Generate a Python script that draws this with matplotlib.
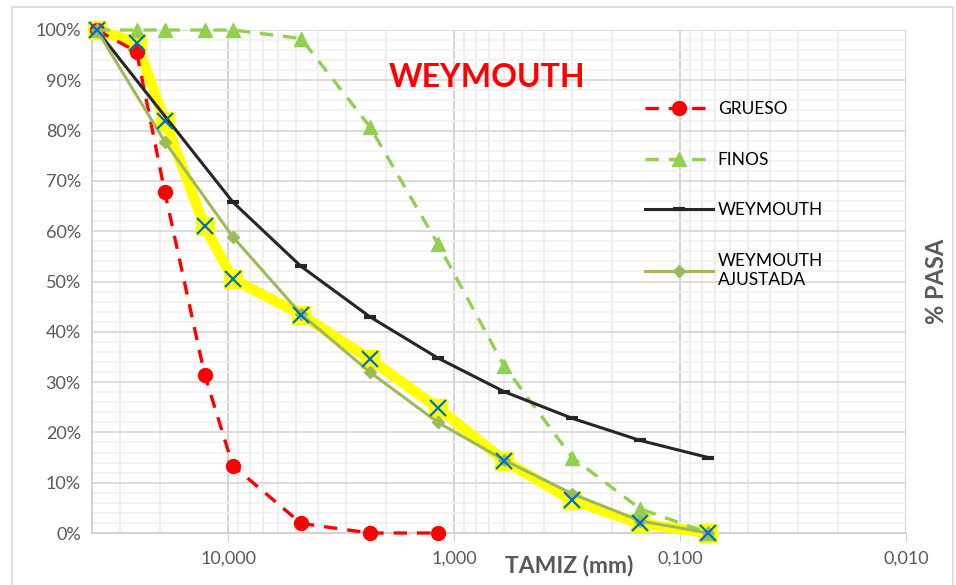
import matplotlib.pyplot as plt
from matplotlib.patches import Rectangle

plt.rcParams['font.family'] = ['Lato', 'DejaVu Sans']

# sieve openings (mm)
tamiz = [38.1, 25.4, 19.05, 12.7, 9.53, 4.75, 2.36, 1.18, 0.6, 0.3, 0.15, 0.075]

grueso_x = [38.1, 25.4, 19.05, 12.7, 9.53, 4.75, 2.36, 1.18]
grueso = [100, 95.7, 67.8, 31.5, 13.4, 1.9, 0, 0]

finos = [100, 100, 100, 100, 100, 98.3, 80.8, 57.5, 33.2, 15.0, 4.8, 0]

wey_x = [38.1, 9.53, 4.75, 2.36, 1.18, 0.6, 0.3, 0.15, 0.075]
weymouth = [100, 65.8, 53.0, 43.0, 34.8, 28.1, 22.8, 18.4, 15.0]

aju_x = [38.1, 19.05, 9.53, 4.75, 2.36, 1.18, 0.6, 0.3, 0.15, 0.075]
ajustada = [100, 77.8, 58.9, 43.5, 32.0, 22.0, 14.5, 7.8, 2.4, 0]

mezcla = [100, 97.5, 82.0, 61.0, 50.5, 43.4, 34.6, 24.9, 14.4, 6.5, 1.9, 0]

xticks = [10, 1, 0.1, 0.01]
xtick_labels = ["10,000", "1,000", "0,100", "0,010"]
yticks = list(range(0, 101, 10))

fig = plt.figure(figsize=(9.56, 5.85), dpi=100)
ax = fig.add_axes([92/956, 1-533/585, (906-92)/956, (533-30)/585])

fig.patches.append(Rectangle((12/956, -0.01), (953-12)/956, 1.01-7/585,
                             transform=fig.transFigure, fill=False,
                             edgecolor='#D9D9D9', lw=1.2))

ax.set_xscale('log')
ax.set_xlim(40, 0.01)
ax.set_ylim(0, 100)

# grid
ax.set_xticks(xticks)
ax.set_xticklabels(xtick_labels)
minor_x = [m * 10.0**e for e in range(-2, 2) for m in range(2, 10) if m * 10.0**e < 40]
ax.set_xticks(minor_x, minor=True)
ax.set_yticks(yticks)
ax.set_yticklabels([f"{v}%" for v in yticks])
ax.set_yticks(list(range(0, 101, 2)), minor=True)
ax.grid(which='major', axis='x', color='#D0D0D0', lw=1.3)
ax.grid(which='minor', axis='x', color='#EDEDED', lw=1.3)
ax.grid(which='major', axis='y', color='#D9D9D9', lw=1.3)
ax.grid(which='minor', axis='y', color='#F0F0F0', lw=1.1)
ax.set_axisbelow(True)

for s in ['top', 'right']:
    ax.spines[s].set_visible(False)
ax.spines['left'].set_color('#D0D0D0')
ax.spines['bottom'].set_color('#D0D0D0')
ax.spines['left'].set_linewidth(1.3)
ax.spines['bottom'].set_linewidth(1.3)
ax.tick_params(axis='y', which='both', length=0, labelsize=13, labelcolor='#595959', pad=8)
ax.tick_params(axis='x', which='major', length=6, color='#D0D0D0', labelsize=13,
               labelcolor='#595959', pad=7)
ax.tick_params(axis='x', which='minor', length=0)

# series
ax.plot(tamiz, mezcla, color='#FFFF00', lw=7.5, zorder=3, clip_on=False,
        marker='s', ms=13, mfc='#FFFF00', mec='#FFFF00')
ax.plot(tamiz, mezcla, ls='none', marker='x', ms=12, mec='#0070C0', mew=1.6,
        zorder=6, clip_on=False)
ax.plot(grueso_x, grueso, color='#FF0000', ls=(0, (4, 3)), lw=2.4, marker='o',
        ms=10, zorder=4, clip_on=False, label='GRUESO')
ax.plot(tamiz, finos, color='#92D050', ls=(0, (4, 3)), lw=2.4, marker='^',
        ms=10, zorder=4, clip_on=False, label='FINOS')
ax.plot(wey_x, weymouth, color='#262626', lw=2.2, marker='_', ms=9, mew=3,
        zorder=4, clip_on=False, label='WEYMOUTH')
ax.plot(aju_x, ajustada, color='#9BBB59', lw=2.2, marker='D', ms=6,
        zorder=4, clip_on=False, label='WEYMOUTH\nAJUSTADA')

leg = ax.legend(loc='upper left', bbox_to_anchor=(0.66, 0.89), frameon=False,
                fontsize=12.5, handlelength=3.9, labelspacing=2.0, handletextpad=0.3)
for t in leg.get_texts():
    t.set_color('#000000')

ax.text(0.485, 0.905, "WEYMOUTH", transform=ax.transAxes, color='#FF0000',
        fontsize=23, fontweight='bold', ha='center', va='center')
ax.text(0.586, -0.064, "TAMIZ (mm)", transform=ax.transAxes, color='#595959',
        fontsize=16.5, fontweight='bold', ha='center', va='center')
ax.text(1.038, 0.5, "% PASA", transform=ax.transAxes, color='#595959',
        fontsize=17, fontweight='bold', ha='center', va='center', rotation=90)

fig.savefig("out.png", dpi=100)
